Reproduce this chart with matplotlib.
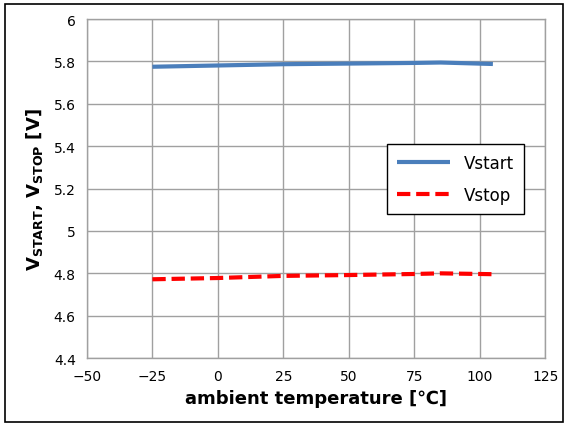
import matplotlib
matplotlib.use("Agg")
import matplotlib.pyplot as plt
from matplotlib.patches import Rectangle

temps = [-25, 0, 25, 50, 75, 85, 105]
vstart = [5.775, 5.781, 5.787, 5.790, 5.793, 5.795, 5.788]
vstop = [4.772, 4.778, 4.788, 4.792, 4.797, 4.800, 4.796]
xticks = [-50, -25, 0, 25, 50, 75, 100, 125]
yticks = [4.4, 4.6, 4.8, 5.0, 5.2, 5.4, 5.6, 5.8, 6.0]
yticklabels = ["4.4", "4.6", "4.8", "5", "5.2", "5.4", "5.6", "5.8", "6"]

fig = plt.figure(figsize=(5.68, 4.27), dpi=100)
ax = fig.add_axes([0.153, 0.159, 0.807, 0.794])

ax.plot(temps, vstart, color="#4a7ebb", lw=3, label="Vstart", solid_capstyle="butt")
ax.plot(temps, vstop, color="#ff0000", lw=3, ls=(0, (3.2, 1.4)), label="Vstop")

ax.set_xlim(-50, 125)
ax.set_ylim(4.4, 6.0)
ax.set_xticks(xticks)
ax.set_xticklabels(["\u2212" + str(-t) if t < 0 else str(t) for t in xticks])
ax.set_yticks(yticks)
ax.set_yticklabels(yticklabels)
ax.tick_params(length=0, labelsize=10, pad=8)
ax.grid(True, color="#a0a0a0", lw=1)
for s in ax.spines.values():
    s.set_color("#a0a0a0")
    s.set_linewidth(1)
ax.set_axisbelow(True)

ax.set_xlabel("ambient temperature [\u2103]", fontsize=13, fontweight="bold", labelpad=4)
ax.set_ylabel(r"$\mathbf{V_{START}}$, $\mathbf{V_{STOP}}$ [V]", fontsize=13, fontweight="bold", labelpad=6)

leg = ax.legend(loc="upper left", bbox_to_anchor=(0.655, 0.631), fontsize=12,
                frameon=True, fancybox=False, edgecolor="black", framealpha=1,
                handlelength=3.2, borderpad=0.6, labelspacing=0.8, borderaxespad=0)
leg.get_frame().set_linewidth(1)

fig.patches.append(Rectangle((5/568, 4/427), 558/568, 418/427, transform=fig.transFigure,
                             fill=False, edgecolor="black", lw=1.2))

fig.savefig("out.png", dpi=100)
